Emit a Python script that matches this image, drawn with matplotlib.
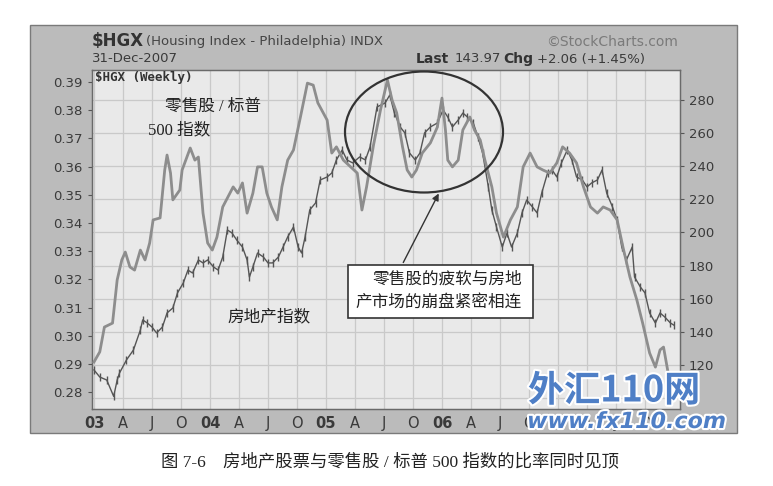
import matplotlib
matplotlib.use('Agg')
import matplotlib.pyplot as plt
import matplotlib.patheffects as pe
from matplotlib.patches import Rectangle, Ellipse

plt.rcParams['font.family'] = ['DejaVu Sans', 'Noto Sans CJK SC']

# --------------------------
# data
# --------------------------
# retail / S&P 500 ratio (left axis), time in decimal years
ratio_t = [2003.00, 2003.05, 2003.09, 2003.16, 2003.20, 2003.24, 2003.27, 2003.31, 2003.35, 2003.40,
           2003.44, 2003.48, 2003.51, 2003.57, 2003.61, 2003.63, 2003.66, 2003.68, 2003.74, 2003.76,
           2003.83, 2003.87, 2003.90, 2003.94, 2003.98,
           2004.02, 2004.06, 2004.11, 2004.20, 2004.24, 2004.28, 2004.32, 2004.37, 2004.41, 2004.45,
           2004.49, 2004.53, 2004.58, 2004.62, 2004.67, 2004.72, 2004.78, 2004.84, 2004.89, 2004.93,
           2005.01, 2005.05, 2005.09, 2005.15, 2005.27, 2005.31, 2005.35, 2005.41, 2005.47, 2005.53,
           2005.57, 2005.61, 2005.66, 2005.70, 2005.74, 2005.78, 2005.83, 2005.90, 2005.96,
           2006.00, 2006.03, 2006.05, 2006.09, 2006.14, 2006.18, 2006.24, 2006.28, 2006.33, 2006.37,
           2006.43, 2006.47, 2006.53, 2006.59, 2006.65, 2006.70, 2006.76, 2006.82, 2006.87, 2006.93,
           2006.99,
           2007.04, 2007.10, 2007.16, 2007.22, 2007.28, 2007.34, 2007.39, 2007.45, 2007.51, 2007.56,
           2007.62, 2007.68, 2007.73, 2007.79, 2007.84, 2007.88, 2007.91, 2007.95, 2007.98]
ratio_v = [0.2907, 0.2943, 0.3031, 0.3045, 0.3198, 0.3269, 0.3297, 0.3244, 0.3233, 0.3304,
           0.3269, 0.3329, 0.3411, 0.3418, 0.3588, 0.3641, 0.3577, 0.3482, 0.3517, 0.3588,
           0.3666, 0.3623, 0.3634, 0.3435, 0.3329,
           0.3304, 0.3350, 0.3457, 0.3528, 0.3506, 0.3542, 0.3435, 0.3506, 0.3599, 0.3599,
           0.3506, 0.3457, 0.3411, 0.3528, 0.3623, 0.3659, 0.3776, 0.3896, 0.3889, 0.3826,
           0.3765, 0.3648, 0.3670, 0.3623, 0.3577, 0.3446, 0.3528, 0.3677, 0.3801, 0.3907,
           0.3836, 0.3790, 0.3670, 0.3588, 0.3563, 0.3588, 0.3648, 0.3684, 0.3740,
           0.3843, 0.3730, 0.3623, 0.3599, 0.3623, 0.3730, 0.3776, 0.3730, 0.3694, 0.3623,
           0.3528, 0.3435, 0.3350, 0.3411, 0.3457, 0.3599, 0.3648, 0.3599, 0.3588, 0.3577,
           0.3613,
           0.3670, 0.3648, 0.3613, 0.3528, 0.3457, 0.3435, 0.3457, 0.3446, 0.3411, 0.3315,
           0.3209, 0.3127, 0.3045, 0.2939, 0.2889, 0.2950, 0.2960, 0.2868, 0.2790]

# $HGX weekly (right axis)
hgx_t = [2003.00, 2003.05, 2003.11, 2003.17, 2003.20, 2003.22, 2003.28, 2003.34, 2003.40, 2003.42,
         2003.46, 2003.50, 2003.54, 2003.59, 2003.63, 2003.68, 2003.72, 2003.77, 2003.81, 2003.85,
         2003.90, 2003.94, 2003.98,
         2004.03, 2004.07, 2004.11, 2004.15, 2004.19, 2004.23, 2004.28, 2004.32, 2004.34, 2004.37,
         2004.41, 2004.46, 2004.50, 2004.54, 2004.59, 2004.63, 2004.67, 2004.72, 2004.76, 2004.79,
         2004.82, 2004.86, 2004.91, 2004.95,
         2005.01, 2005.05, 2005.09, 2005.14, 2005.18, 2005.23, 2005.29, 2005.34, 2005.38, 2005.44,
         2005.51, 2005.55, 2005.59, 2005.64, 2005.68, 2005.72, 2005.77, 2005.81, 2005.85, 2005.90,
         2005.96,
         2006.01, 2006.05, 2006.09, 2006.14, 2006.18, 2006.22, 2006.27, 2006.31, 2006.35, 2006.40,
         2006.43, 2006.47, 2006.52, 2006.56, 2006.60, 2006.65, 2006.69, 2006.73, 2006.78, 2006.82,
         2006.86, 2006.91, 2006.95, 2006.99,
         2007.03, 2007.08, 2007.12, 2007.16, 2007.21, 2007.25, 2007.29, 2007.34, 2007.38, 2007.42,
         2007.47, 2007.51, 2007.55, 2007.59, 2007.64, 2007.66, 2007.71, 2007.75, 2007.79, 2007.84,
         2007.88, 2007.92, 2007.97, 2008.00]
hgx_v = [117.0, 112.7, 110.9, 101.0, 110.9, 115.1, 123.0, 129.0, 141.1, 147.2,
         145.3, 142.9, 139.3, 142.9, 151.4, 154.4, 163.5, 169.5, 177.3, 175.5,
         183.4, 181.6, 183.4,
         179.2, 177.3, 185.2, 201.5, 199.7, 195.5, 191.2, 183.4, 173.1, 179.2,
         187.6, 185.2, 181.6, 181.6, 185.2, 191.2, 197.3, 203.3, 191.2, 187.6,
         197.3, 213.6, 217.8, 231.7,
         233.5, 235.9, 243.8, 249.8, 243.8, 242.0, 245.6, 243.8, 251.6, 275.8,
         278.2, 283.0, 272.1, 263.7, 260.1, 248.0, 243.8, 248.0, 260.1, 263.7,
         266.1,
         274.0, 269.7, 263.7, 267.9, 272.1, 269.7, 266.1, 257.7, 248.0, 227.5,
         213.6, 203.3, 191.2, 199.7, 191.2, 199.7, 211.8, 219.6, 215.4, 211.8,
         223.8, 235.9, 237.7, 233.5,
         242.0, 249.8, 243.8, 233.5, 231.7, 227.5, 229.9, 231.7, 237.7, 223.8,
         215.4, 207.5, 191.2, 183.4, 191.2, 173.1, 167.1, 163.5, 151.4, 145.3,
         151.4, 149.0, 145.3, 144.0]

x_tick_labels = ['03', 'A', 'J', 'O', '04', 'A', 'J', 'O', '05', 'A', 'J', 'O',
                 '06', 'A', 'J', 'O', '07', 'A', 'J', 'O']
left_ticks = [0.28, 0.29, 0.30, 0.31, 0.32, 0.33, 0.34, 0.35, 0.36, 0.37, 0.38, 0.39]
right_ticks = [100, 120, 140, 160, 180, 200, 220, 240, 260, 280]

# --------------------------
# figure in pixel helpers
# --------------------------
W, H = 773, 486
fig = plt.figure(figsize=(W / 100, H / 100), dpi=100)
fig.patch.set_facecolor('white')


def fx(px):
    return px / W


def fy(py):
    return 1 - py / H


def ptext(x, y, s, **kw):
    kw.setdefault('va', 'center')
    return fig.text(fx(x), fy(y), s, **kw)


# grey StockCharts panel (behind the axes)
fig.patches.append(Rectangle((fx(30), fy(433)), (737 - 30) / W, (433 - 25) / H,
                             transform=fig.transFigure, facecolor='#bbbbbb',
                             edgecolor='#7a7a7a', lw=1.0, zorder=-5))

ax = fig.add_axes([fx(92), fy(409), (680 - 92) / W, (409 - 70) / H])
ax.set_facecolor('#e9e9e9')
ax2 = ax.twinx()

# HGX on the primary axis (right scale), grid follows it
ax.plot(hgx_t, hgx_v, color='#555555', lw=1.0, marker='|', markersize=6,
        markeredgewidth=1.0, zorder=3)
ax.set_ylim(93.4, 298.1)
ax.set_yticks(right_ticks)
ax.set_yticklabels([''] + [str(v) for v in right_ticks[1:]])
ax.yaxis.tick_right()

# ratio on the twin axis (left scale)
ax2.plot(ratio_t, ratio_v, color='#8d8d8d', lw=2.0, zorder=4)
ax2.set_ylim(0.27404, 0.39426)
ax2.set_yticks(left_ticks)
ax2.set_yticklabels(['%.2f' % v for v in left_ticks])
ax2.yaxis.tick_left()

xt = [2003 + i * 0.25 for i in range(len(x_tick_labels))]
ax.set_xlim(2002.983, 2008.052)
ax.set_xticks(xt)
ax.set_xticklabels(x_tick_labels)
for lab in ax.get_xticklabels():
    if lab.get_text().isdigit():
        lab.set_fontweight('bold')

ax.grid(True, color='#c9c9c9', lw=0.9)
ax.set_axisbelow(True)
for a in (ax, ax2):
    a.tick_params(axis='both', length=3, width=0.8, colors='#555555',
                  labelcolor='#3a3a3a', labelsize=9.5)
    for sp in a.spines.values():
        sp.set_color('#6a6a6a')
        sp.set_linewidth(0.9)
ax.tick_params(axis='x', length=0, pad=5, labelsize=10.5)

# header texts
ptext(92, 41, '$HGX', fontsize=12, fontweight='bold', color='#333333')
ptext(146, 42, '(Housing Index - Philadelphia) INDX', fontsize=9.5, color='#444444')
ptext(678, 42, '\u00a9StockCharts.com', fontsize=10, color='#7a7a7a', ha='right')
ptext(92, 59, '31-Dec-2007', fontsize=9.5, color='#3a3a3a')
ptext(416, 59, 'Last', fontsize=10, fontweight='bold', color='#333333')
ptext(455, 59, '143.97', fontsize=9.5, color='#3a3a3a')
ptext(503, 59, 'Chg', fontsize=10, fontweight='bold', color='#333333')
ptext(537, 59, '+2.06 (+1.45%)', fontsize=9.5, color='#3a3a3a')
ptext(95, 77, '$HGX (Weekly)', fontsize=9, fontweight='bold', color='#333333',
      family='DejaVu Sans Mono')

# chinese annotations
cn = ['Liberation Serif', 'Noto Sans CJK SC']
ptext(165, 107, '零售股 / 标普', fontsize=12, color='#222222', family=cn)
ptext(148, 130, '500 指数', fontsize=12, color='#222222', family=cn)
ptext(227, 317, '房地产指数', fontsize=12, color='#222222', family=cn)

fig.patches.append(Ellipse((fx(424), fy(132)), 158 / W, 121 / H, transform=fig.transFigure,
                           fill=False, edgecolor='#333333', lw=1.6, zorder=6))
fig.patches.append(Rectangle((fx(348), fy(318)), (533 - 348) / W, (318 - 265) / H,
                             transform=fig.transFigure, facecolor='white',
                             edgecolor='#333333', lw=1.2, zorder=6))
ax.annotate('', xy=(fx(440), fy(191)), xytext=(fx(402), fy(265)),
            xycoords='figure fraction', textcoords='figure fraction',
            arrowprops=dict(arrowstyle='-|>', color='#333333', lw=1.0, mutation_scale=10))
ptext(372, 280, '零售股的疲软与房地', fontsize=12, color='#222222', family=cn, zorder=7)
ptext(355, 303, '产市场的崩盘紧密相连', fontsize=12, color='#222222', family=cn, zorder=7)

# site watermark, blue with white outline
halo = [pe.withStroke(linewidth=3, foreground='white')]
ptext(528, 391, '外汇110网', fontsize=26, fontweight='bold', color='#4f7fc6',
      family=['Noto Sans CJK SC', 'DejaVu Sans'], zorder=8, path_effects=halo)
ptext(527, 422, 'www.fx110.com', fontsize=16, fontweight='bold', style='italic',
      color='#4f7fc6', zorder=8, path_effects=halo)

# caption
ptext(390, 462, '图 7-6\u3000房地产股票与零售股 / 标普 500 指数的比率同时见顶',
      fontsize=12.5, color='#222222', family=cn, ha='center')

fig.savefig('out.png', dpi=100, facecolor='white')
